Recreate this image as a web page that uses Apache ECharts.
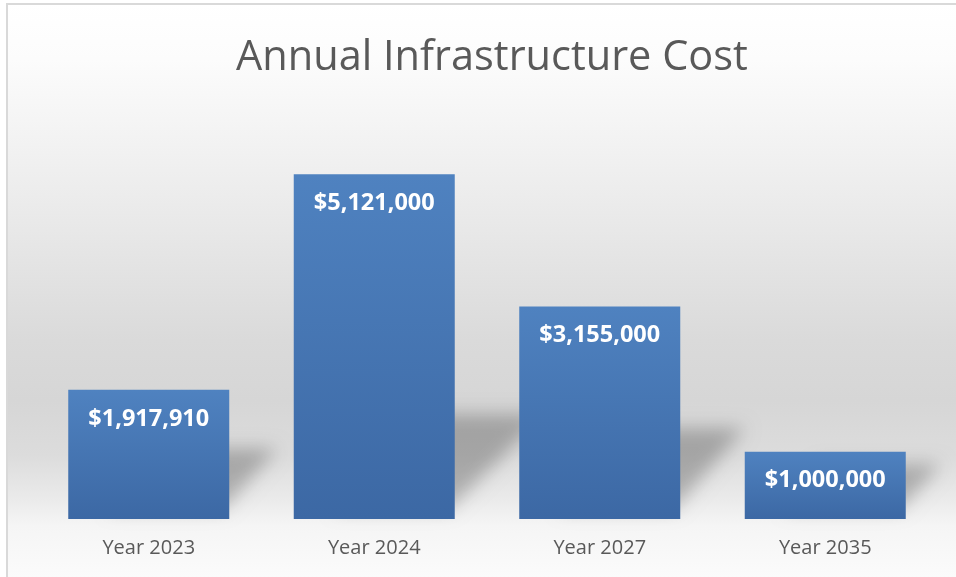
<!DOCTYPE html>
<html>
<head>
<meta charset="utf-8">
<script src="https://cdn.jsdelivr.net/npm/echarts@6/dist/echarts.min.js"></script>
<style>
html,body{margin:0;padding:0;background:#fff;}
#c{width:956px;height:577px;}
</style>
</head>
<body>
<div id="c"></div>
<script>
const titleText = 'Annual Infrastructure Cost';
const categories = ['Year 2023', 'Year 2024', 'Year 2027', 'Year 2035'];
const costs = [1917910, 5121000, 3155000, 1000000];

const chart = echarts.init(document.getElementById('c'), null, {renderer: 'canvas'});

function fmt(v) { return '$' + Number(v).toLocaleString('en-US'); }

const H = 600;
function stop(y, c) { return {offset: (y - 4) / H, color: c}; }

const option = {
  backgroundColor: '#ffffff',
  animation: false,
  title: {
    text: titleText,
    left: 487,
    textAlign: 'center',
    top: 32,
    textStyle: {
      fontFamily: 'Open Sans',
      fontSize: 41.5,
      fontWeight: 'normal',
      color: '#595959'
    }
  },
  graphic: [{
    type: 'rect',
    z: -10,
    silent: true,
    shape: {x: 7, y: 4, width: 1000, height: H},
    style: {
      stroke: '#d9d9d9',
      lineWidth: 2,
      fill: {
        type: 'linear', x: 0, y: 0, x2: 0, y2: 1,
        colorStops: [
          stop(4, '#ffffff'),
          stop(60, '#fcfcfc'),
          stop(120, '#f5f5f5'),
          stop(230, '#e8e8e8'),
          stop(340, '#dadada'),
          stop(400, '#d6d6d6'),
          stop(455, '#dcdcdc'),
          stop(500, '#ebebeb'),
          stop(525, '#f5f5f5'),
          stop(577, '#fbfbfb'),
          stop(604, '#ffffff')
        ]
      }
    }
  }],
  grid: {left: 36, right: 18, top: 115, bottom: 58, containLabel: false},
  xAxis: {
    type: 'category',
    data: categories,
    axisLine: {show: false},
    axisTick: {show: false},
    axisLabel: {
      margin: 19,
      fontFamily: 'Open Sans',
      fontSize: 20,
      color: '#595959'
    }
  },
  yAxis: {
    type: 'value',
    min: 0,
    max: 6000000,
    show: false,
    splitLine: {show: false}
  },
  series: [
    {
      type: 'custom',
      z: 1,
      silent: true,
      data: costs.map((v, i) => [i, v]),
      renderItem: function (params, api) {
        const idx = api.value(0);
        const v = api.value(1);
        const top = api.coord([idx, v]);
        const base = api.coord([idx, 0]);
        const band = api.size([1, 0])[0];
        const bw = band * 0.714;
        const h = base[1] - top[1];
        const xL = base[0] - bw / 2;
        const xR = base[0] + bw / 2;
        const y0 = base[1] - 10;
        const dx = 0.2 * h + 22;
        const sh = Math.min(0.25 * h + 28, 95);
        const off = 3000;
        return {
          type: 'polygon',
          shape: {
            points: [
              [xL + 40 + off, y0],
              [xR - 6 + off, y0],
              [xR + dx + off, y0 - sh],
              [xL + 40 + dx + off, y0 - sh]
            ]
          },
          style: {
            fill: 'rgba(0,0,0,0.5)',
            shadowColor: 'rgba(0,0,0,0.5)',
            shadowBlur: 18,
            shadowOffsetX: -off,
            shadowOffsetY: 0
          }
        };
      }
    },
    {
      type: 'bar',
      z: 2,
      data: costs,
      barWidth: '71.4%',
      itemStyle: {
        color: {
          type: 'linear', x: 0, y: 0, x2: 0, y2: 1,
          colorStops: [
            {offset: 0, color: '#4f82c0'},
            {offset: 1, color: '#3c68a4'}
          ]
        }
      },
      label: {
        show: true,
        position: 'insideTop',
        distance: 17,
        formatter: p => fmt(p.value),
        fontFamily: 'Open Sans',
        fontWeight: 'bold',
        fontSize: 23.5,
        color: '#ffffff'
      }
    }
  ]
};

chart.setOption(option);
</script>
</body>
</html>
